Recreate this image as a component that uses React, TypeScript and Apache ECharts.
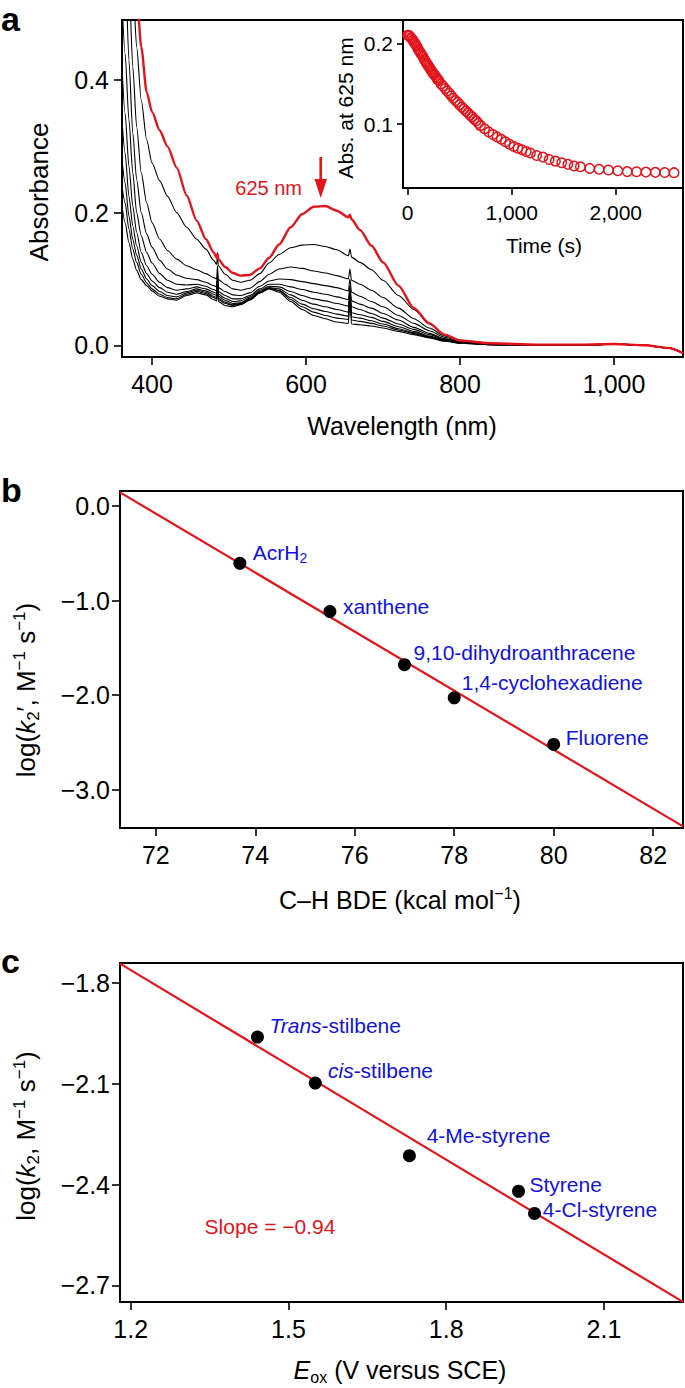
import { useEffect, useRef } from "react";
import * as echarts from "echarts";

const FONT = "'Liberation Sans', Arial, Helvetica, sans-serif";
const RED = "#e5131b";
const BLUE = "#1212e0";
const MINUS = "\u2212";

// ---------------- Panel a: spectra ----------------
const WAVELENGTH_NM = [361, 365, 370, 375, 380, 386, 393, 400, 410, 420, 432, 445, 458, 470, 480, 484, 485, 486, 495, 505, 515, 527, 540, 552, 565, 580, 595, 610, 625, 640, 655, 657, 659, 670, 685, 700, 720, 740, 760, 780, 800, 840, 900, 960, 1000, 1040, 1070, 1090];

const SPECTRUM_INITIAL = [0.9, 0.8, 0.7, 0.6, 0.53, 0.45, 0.382, 0.352, 0.324, 0.3, 0.268, 0.226, 0.188, 0.16, 0.14, 0.132, 0.138, 0.13, 0.118, 0.109, 0.105, 0.106, 0.116, 0.132, 0.152, 0.178, 0.198, 0.209, 0.21, 0.203, 0.193, 0.197, 0.19, 0.174, 0.15, 0.125, 0.09, 0.056, 0.033, 0.016, 0.007, 0.003, 0.001, 0.001, 0.002, 0.0, -0.004, -0.012];
const SPECTRUM_1 = [0.9, 0.8, 0.68, 0.55, 0.45, 0.37, 0.31, 0.275, 0.248, 0.225, 0.2, 0.178, 0.16, 0.145, 0.128, 0.122, 0.14, 0.12, 0.107, 0.098, 0.095, 0.098, 0.108, 0.124, 0.137, 0.147, 0.151, 0.152, 0.149, 0.144, 0.135, 0.145, 0.133, 0.125, 0.114, 0.098, 0.075, 0.054, 0.032, 0.016, 0.008, 0.003, 0.001, 0.001, 0.002, 0.0, -0.004, -0.012];
const SPECTRUM_2 = [0.85, 0.72, 0.55, 0.42, 0.33, 0.26, 0.215, 0.185, 0.16, 0.143, 0.13, 0.12, 0.114, 0.108, 0.102, 0.1, 0.12, 0.099, 0.092, 0.085, 0.083, 0.086, 0.096, 0.107, 0.115, 0.118, 0.116, 0.112, 0.109, 0.105, 0.1, 0.115, 0.098, 0.092, 0.083, 0.072, 0.056, 0.04, 0.026, 0.014, 0.007, 0.002, 0.0, 0.0, 0.002, 0.0, -0.004, -0.012];
const SPECTRUM_3 = [0.7, 0.58, 0.43, 0.32, 0.25, 0.2, 0.168, 0.148, 0.128, 0.115, 0.106, 0.101, 0.099, 0.095, 0.09, 0.088, 0.11, 0.087, 0.081, 0.076, 0.075, 0.079, 0.089, 0.097, 0.1, 0.099, 0.096, 0.093, 0.09, 0.087, 0.082, 0.1, 0.08, 0.074, 0.066, 0.058, 0.045, 0.033, 0.022, 0.012, 0.006, 0.002, 0.0, 0.0, 0.002, 0.0, -0.004, -0.012];
const SPECTRUM_4 = [0.52, 0.44, 0.34, 0.26, 0.2, 0.165, 0.14, 0.124, 0.108, 0.098, 0.092, 0.091, 0.092, 0.089, 0.084, 0.082, 0.105, 0.081, 0.075, 0.07, 0.07, 0.075, 0.085, 0.092, 0.092, 0.088, 0.084, 0.08, 0.077, 0.073, 0.069, 0.09, 0.067, 0.062, 0.056, 0.048, 0.038, 0.027, 0.018, 0.01, 0.005, 0.002, 0.0, 0.0, 0.002, 0.0, -0.004, -0.012];
const SPECTRUM_5 = [0.42, 0.35, 0.27, 0.21, 0.17, 0.14, 0.12, 0.107, 0.095, 0.087, 0.083, 0.085, 0.088, 0.085, 0.08, 0.078, 0.103, 0.077, 0.071, 0.066, 0.067, 0.073, 0.083, 0.089, 0.088, 0.081, 0.075, 0.07, 0.067, 0.063, 0.059, 0.085, 0.058, 0.054, 0.048, 0.041, 0.032, 0.024, 0.016, 0.009, 0.005, 0.002, 0.0, 0.0, 0.002, 0.0, -0.004, -0.012];
const SPECTRUM_6 = [0.34, 0.29, 0.225, 0.18, 0.15, 0.125, 0.108, 0.097, 0.087, 0.08, 0.077, 0.081, 0.085, 0.082, 0.077, 0.075, 0.1, 0.074, 0.068, 0.063, 0.064, 0.071, 0.081, 0.087, 0.085, 0.076, 0.068, 0.062, 0.058, 0.054, 0.05, 0.08, 0.049, 0.046, 0.042, 0.036, 0.028, 0.021, 0.014, 0.008, 0.004, 0.001, 0.0, 0.0, 0.002, 0.0, -0.004, -0.012];
const SPECTRUM_7 = [0.28, 0.245, 0.195, 0.16, 0.136, 0.115, 0.1, 0.09, 0.081, 0.075, 0.073, 0.079, 0.083, 0.08, 0.074, 0.072, 0.1, 0.071, 0.065, 0.061, 0.063, 0.07, 0.08, 0.086, 0.083, 0.072, 0.062, 0.055, 0.051, 0.047, 0.044, 0.078, 0.043, 0.041, 0.037, 0.032, 0.025, 0.019, 0.013, 0.007, 0.004, 0.001, 0.0, 0.0, 0.002, 0.0, -0.004, -0.012];
const SPECTRUM_8 = [0.24, 0.215, 0.175, 0.145, 0.125, 0.107, 0.094, 0.085, 0.077, 0.072, 0.07, 0.077, 0.081, 0.078, 0.072, 0.07, 0.1, 0.069, 0.063, 0.06, 0.062, 0.069, 0.079, 0.086, 0.082, 0.069, 0.058, 0.05, 0.045, 0.041, 0.039, 0.076, 0.038, 0.036, 0.033, 0.029, 0.023, 0.0175, 0.012, 0.007, 0.003, 0.001, 0.0, 0.0, 0.002, 0.0, -0.004, -0.012];
const SPECTRUM_9 = [0.21, 0.185, 0.155, 0.13, 0.113, 0.099, 0.09, 0.082, 0.074, 0.07, 0.068, 0.075, 0.079, 0.076, 0.069, 0.067, 0.1, 0.066, 0.06, 0.058, 0.061, 0.068, 0.079, 0.085, 0.08, 0.066, 0.054, 0.045, 0.04, 0.035, 0.033, 0.072, 0.032, 0.031, 0.029, 0.026, 0.021, 0.016, 0.011, 0.006, 0.003, 0.001, 0.0, 0.0, 0.002, 0.0, -0.004, -0.012];

const WAVELENGTH_TICKS = [400, 600, 800, 1000];
const ABSORBANCE_TICKS = [0, 0.2, 0.4];

// ---------------- Panel a inset: kinetics at 625 nm ----------------
const KINETIC_TIME_S = [0, 10, 20, 30, 40, 50, 60, 70, 80, 90, 100, 110, 120, 130, 140, 150, 160, 170, 180, 190, 200, 210, 220, 230, 240, 250, 260, 270, 280, 290, 300,
  320, 340, 360, 380, 400, 420, 440, 460, 480, 500, 520, 540, 560, 580, 600, 620, 640, 660, 680, 700,
  740, 780, 820, 860, 900, 940, 980, 1020, 1060, 1100, 1140, 1180,
  1240, 1300, 1360, 1420, 1480, 1540, 1600, 1660,
  1750, 1840, 1930, 2020, 2110, 2200, 2290, 2380, 2470, 2560];
const KINETIC_ABS_625 = [0.210, 0.210, 0.209, 0.207, 0.206, 0.204, 0.202, 0.200, 0.198, 0.196, 0.193, 0.191, 0.189, 0.187, 0.185, 0.183, 0.180, 0.178, 0.176, 0.174, 0.172, 0.170, 0.168, 0.166, 0.164, 0.162, 0.161, 0.159, 0.157, 0.155, 0.154,
  0.150, 0.147, 0.144, 0.141, 0.138, 0.135, 0.132, 0.129, 0.127, 0.124, 0.121, 0.119, 0.116, 0.114, 0.111, 0.109, 0.106, 0.104, 0.101, 0.098,
  0.094, 0.090, 0.087, 0.084, 0.081, 0.078, 0.075, 0.072, 0.070, 0.068, 0.066, 0.064,
  0.061, 0.059, 0.056, 0.054, 0.052, 0.050, 0.048, 0.047,
  0.045, 0.044, 0.043, 0.042, 0.041, 0.0408, 0.0404, 0.0401, 0.0399, 0.0397];
const TIME_TICKS = [0, 1000, 2000];
const INSET_ABS_TICKS = [0.1, 0.2];

// ---------------- Panel b ----------------
const BDE_KCAL = [73.69, 75.5, 77.0, 78.0, 80.0];
const LOG_K2_PRIME = [-0.606, -1.116, -1.677, -2.027, -2.52];
const BDE_SUBSTRATES = ["AcrH2", "xanthene", "9,10-dihydroanthracene", "1,4-cyclohexadiene", "Fluorene"];
const BDE_TICKS = [72, 74, 76, 78, 80, 82];
const LOG_K2_PRIME_TICKS = [0, -1, -2, -3];

// ---------------- Panel c ----------------
const E_OX = [1.441, 1.551, 1.73, 1.9375, 1.968];
const LOG_K2 = [-1.961, -2.098, -2.314, -2.42, -2.486];
const EOX_SUBSTRATES = ["Trans-stilbene", "cis-stilbene", "4-Me-styrene", "Styrene", "4-Cl-styrene"];
const EOX_TICKS = [1.2, 1.5, 1.8, 2.1];
const LOG_K2_TICKS = [-1.8, -2.1, -2.4, -2.7];

// ---------------- layout (pixels / axis extents) ----------------
const A_X = [361, 1089.5];
const A_Y = [-0.0177, 0.4906];
const IN_X = [-44, 2646];
const IN_Y = [0.0207, 0.2289];
const B_X = [71.28, 82.6];
const B_Y = [-3.403, 0.158];
const C_X = [1.1796, 2.2504];
const C_Y = [-2.7497, -1.7405];

const B_LABEL_DX = [13, 13, 9, 7.5, 12];
const B_LABEL_DY = [-11, -5, -12, -15, -7];
const C_LABEL_DX = [12, 12.7, 17.3, 11, 8.3];
const C_LABEL_DY = [-11.7, -12.7, -20, -6.7, -4];

function fmtNum(v: number, digits: number) {
  const s = v.toFixed(digits);
  return s.startsWith("-") ? MINUS + s.slice(1) : s;
}
function fmtThousands(v: number) {
  return String(Math.round(v)).replace(/\B(?=(\d{3})+(?!\d))/g, ",");
}

function fitEnds(xs: number[], ys: number[], x0: number, x1: number) {
  const n = xs.length;
  const mx = xs.reduce((a, b) => a + b, 0) / n;
  const my = ys.reduce((a, b) => a + b, 0) / n;
  let sxy = 0;
  let sxx = 0;
  for (let i = 0; i < n; i++) {
    sxy += (xs[i] - mx) * (ys[i] - my);
    sxx += (xs[i] - mx) * (xs[i] - mx);
  }
  const m = sxy / sxx;
  const c = my - m * mx;
  return [[x0, m * x0 + c], [x1, m * x1 + c]];
}

function valueAxis(gridIndex: number, ext: number[], ticks: number[], fmt: (v: number) => string, fontSize: number, margin: number, tickLen: number) {
  return {
    gridIndex,
    type: "value",
    min: ext[0],
    max: ext[1],
    axisLine: { show: true, onZero: false, lineStyle: { color: "#000", width: 2 } },
    axisTick: { show: true, inside: false, length: tickLen, customValues: ticks, lineStyle: { color: "#000", width: 1.6 } },
    axisLabel: { show: true, customValues: ticks, formatter: fmt, fontSize, color: "#000", margin, fontFamily: FONT },
    splitLine: { show: false },
  };
}

function titleRich(size: number, color: string) {
  const small = Math.round(size * 0.65);
  return {
    it: { fontSize: size, fontStyle: "italic", fontFamily: FONT, fill: color, lineHeight: size + 4 },
    sub: { fontSize: small, fontFamily: FONT, fill: color, lineHeight: small, padding: [Math.round(size * 0.55), 0, 0, 0] },
    sup: { fontSize: small, fontFamily: FONT, fill: color, lineHeight: small, padding: [0, 0, Math.round(size * 0.5), 0] },
  };
}

function textEl(x: number, y: number, text: string, size: number, opts: any = {}) {
  const color = opts.color || "#000";
  return {
    type: "text",
    x,
    y,
    rotation: opts.rotation || 0,
    z: 10,
    style: {
      text,
      fontSize: size,
      fontFamily: FONT,
      fontWeight: opts.bold ? "bold" : "normal",
      fill: color,
      align: opts.align || "center",
      verticalAlign: "middle",
      lineHeight: opts.lineHeight || size + 4,
      rich: titleRich(size, color),
    },
  };
}

export default function App() {
  const ref = useRef<HTMLDivElement>(null);

  useEffect(() => {
    document.body.style.margin = "0";
    if (!ref.current) return;
    const chart = echarts.init(ref.current, undefined, { renderer: "svg" });

    const blackSpectra = [SPECTRUM_1, SPECTRUM_2, SPECTRUM_3, SPECTRUM_4, SPECTRUM_5, SPECTRUM_6, SPECTRUM_7, SPECTRUM_8, SPECTRUM_9];

    const spectrumSeries = (vals: number[], color: string, width: number, z: number) => ({
      type: "line",
      xAxisIndex: 0,
      yAxisIndex: 0,
      data: WAVELENGTH_NM.map((w, i) => [w, vals[i]]),
      showSymbol: false,
      symbol: "none",
      smooth: 0.25,
      smoothMonotone: "x",
      clip: true,
      z,
      lineStyle: { color, width, opacity: 1 },
      silent: true,
    });

    const labelRich = {
      sub: { fontSize: 14, color: BLUE, fontFamily: FONT, lineHeight: 14, padding: [12, 0, 0, 0] },
      it: { fontSize: 21, color: BLUE, fontFamily: FONT, fontStyle: "italic" },
      t: { fontSize: 21, color: BLUE, fontFamily: FONT },
    };
    const richName = (name: string) => {
      if (name === "AcrH2") return "{t|AcrH}{sub|2}";
      if (name.startsWith("Trans-")) return "{it|Trans}{t|" + name.slice(5) + "}";
      if (name.startsWith("cis-")) return "{it|cis}{t|" + name.slice(3) + "}";
      return "{t|" + name + "}";
    };

    const bFit = fitEnds(BDE_KCAL, LOG_K2_PRIME, B_X[0], B_X[1]);
    const cFit = fitEnds(E_OX, LOG_K2, C_X[0], C_X[1]);

    const pointLabel = {
      show: true,
      position: "right",
      distance: 0,
      color: BLUE,
      fontSize: 21,
      fontFamily: FONT,
      formatter: (p: any) => richName(p.name),
      rich: labelRich,
    };

    const option: any = {
      animation: false,
      backgroundColor: "#fff",
      textStyle: { fontFamily: FONT },
      grid: [
        { left: 122, top: 20, width: 561, height: 337, show: true, borderColor: "#000", borderWidth: 2, backgroundColor: "transparent" },
        { left: 403, top: 20, width: 280, height: 168, show: true, borderColor: "#000", borderWidth: 2, backgroundColor: "#fff" },
        { left: 120, top: 491, width: 563, height: 337, show: true, borderColor: "#000", borderWidth: 2, backgroundColor: "transparent" },
        { left: 120, top: 963, width: 563, height: 339, show: true, borderColor: "#000", borderWidth: 2, backgroundColor: "transparent" },
      ],
      xAxis: [
        valueAxis(0, A_X, WAVELENGTH_TICKS, fmtThousands, 25, 14, 8),
        valueAxis(1, IN_X, TIME_TICKS, fmtThousands, 21, 14, 7),
        valueAxis(2, B_X, BDE_TICKS, (v) => String(Math.round(v)), 25, 14, 8),
        valueAxis(3, C_X, EOX_TICKS, (v) => fmtNum(v, 1), 25, 14, 8),
      ],
      yAxis: [
        valueAxis(0, A_Y, ABSORBANCE_TICKS, (v) => fmtNum(v, 1), 25, 13, 8),
        valueAxis(1, IN_Y, INSET_ABS_TICKS, (v) => fmtNum(v, 1), 21, 10, 6),
        valueAxis(2, B_Y, LOG_K2_PRIME_TICKS, (v) => fmtNum(v, 1), 25, 10, 8),
        valueAxis(3, C_Y, LOG_K2_TICKS, (v) => fmtNum(v, 1), 25, 10, 8),
      ],
      series: [
        ...blackSpectra.map((s) => spectrumSeries(s, "#000", 1.1, 2)),
        spectrumSeries(SPECTRUM_INITIAL, RED, 2.4, 3),
        {
          type: "scatter",
          xAxisIndex: 1,
          yAxisIndex: 1,
          data: KINETIC_TIME_S.map((t, i) => [t, KINETIC_ABS_625[i]]),
          symbol: "circle",
          symbolSize: 9.5,
          itemStyle: { color: "transparent", borderColor: RED, borderWidth: 1.5, opacity: 1 },
          z: 4,
          silent: true,
        },
        {
          type: "line",
          xAxisIndex: 2,
          yAxisIndex: 2,
          data: bFit,
          showSymbol: false,
          symbol: "none",
          lineStyle: { color: RED, width: 2.2 },
          z: 2,
          silent: true,
        },
        {
          type: "scatter",
          xAxisIndex: 2,
          yAxisIndex: 2,
          symbol: "circle",
          symbolSize: 13,
          itemStyle: { color: "#000", opacity: 1 },
          z: 4,
          data: BDE_KCAL.map((x, i) => ({
            value: [x, LOG_K2_PRIME[i]],
            name: BDE_SUBSTRATES[i],
            label: { offset: [B_LABEL_DX[i] - 6.5, B_LABEL_DY[i]] },
          })),
          label: pointLabel,
          silent: true,
        },
        {
          type: "line",
          xAxisIndex: 3,
          yAxisIndex: 3,
          data: cFit,
          showSymbol: false,
          symbol: "none",
          lineStyle: { color: RED, width: 2.2 },
          z: 2,
          silent: true,
        },
        {
          type: "scatter",
          xAxisIndex: 3,
          yAxisIndex: 3,
          symbol: "circle",
          symbolSize: 13,
          itemStyle: { color: "#000", opacity: 1 },
          z: 4,
          data: E_OX.map((x, i) => ({
            value: [x, LOG_K2[i]],
            name: EOX_SUBSTRATES[i],
            label: { offset: [C_LABEL_DX[i] - 6.5, C_LABEL_DY[i]] },
          })),
          label: pointLabel,
          silent: true,
        },
      ],
      graphic: [
        textEl(1, 19, "a", 34, { bold: true, align: "left", lineHeight: 34 }),
        textEl(1, 490, "b", 34, { bold: true, align: "left", lineHeight: 34 }),
        textEl(1, 961, "c", 34, { bold: true, align: "left", lineHeight: 34 }),
        textEl(39, 192, "Absorbance", 26, { rotation: Math.PI / 2 }),
        textEl(402, 426, "Wavelength (nm)", 25),
        textEl(345, 108, "Abs. at 625 nm", 21, { rotation: Math.PI / 2 }),
        textEl(544, 245, "Time (s)", 21),
        textEl(302, 188, "625 nm", 20, { color: RED, align: "right" }),
        {
          type: "line",
          z: 10,
          shape: { x1: 320.7, y1: 157, x2: 320.7, y2: 184 },
          style: { stroke: RED, lineWidth: 2.6 },
        },
        {
          type: "polygon",
          z: 10,
          shape: { points: [[314.5, 179], [327, 179], [320.7, 198]] },
          style: { fill: RED },
        },
        textEl(26, 690, "log({it|k}{sub|2}\u2032, M{sup|\u22121} s{sup|\u22121})", 26, { rotation: Math.PI / 2 }),
        textEl(400, 900, "C\u2013H BDE (kcal mol{sup|\u22121})", 25),
        textEl(26, 1136, "log({it|k}{sub|2}, M{sup|\u22121} s{sup|\u22121})", 26, { rotation: Math.PI / 2 }),
        textEl(400, 1370, "{it|E}{sub|ox} (V versus SCE)", 25),
        textEl(270, 1226, "Slope = \u22120.94", 21, { color: RED }),
      ],
    };

    chart.setOption(option);
    return () => chart.dispose();
  }, []);

  return <div ref={ref} style={{ width: 685, height: 1388 }} />;
}
